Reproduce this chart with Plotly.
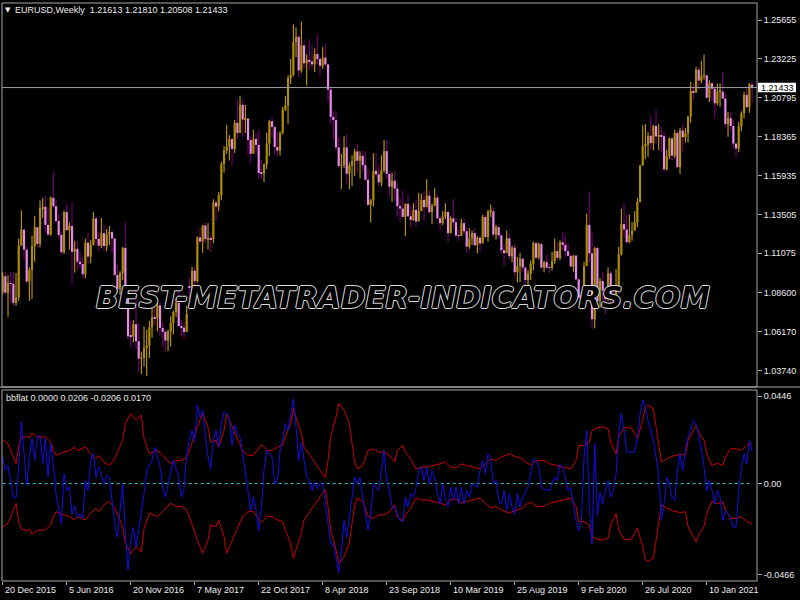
import plotly.graph_objects as go

# ------------------------------------------------------------------ data
date_tick_idx = [0, 24, 48, 72, 96, 120, 144, 168, 192, 216, 240, 264]
date_tick_text = ["20 Dec 2015", "5 Jun 2016", "20 Nov 2016", "7 May 2017",
                  "22 Oct 2017", "8 Apr 2018", "23 Sep 2018", "10 Mar 2019",
                  "25 Aug 2019", "9 Feb 2020", "26 Jul 2020", "10 Jan 2021"]
price_ticks = [1.25655, 1.23225, 1.20795, 1.18365, 1.15935, 1.13505,
               1.11075, 1.08600, 1.06170, 1.03740]
price_tick_text = ["1.25655", "1.23225", "1.20795", "1.18365", "1.15935",
                   "1.13505", "1.11075", "1.08600", "1.06170", "1.03740"]
ind_ticks = [0.0446, 0.0, -0.0466]
ind_tick_text = ["0.0446", "0.00", "-0.0466"]
last_price = 1.21433
title_text = "EURUSD,Weekly\u00a0 1.21613 1.21810 1.20508 1.21433"
ind_title = "bbflat 0.0000 0.0206 -0.0206 0.0170"
watermark = "BEST-METATRADER-INDICATORS.COM"

opens = [
    1.0866, 1.0964, 1.0861, 1.0921, 1.0917, 1.0797, 1.0831, 1.1156, 1.1255, 1.1130,
    1.0931, 1.1003, 1.1153, 1.1270, 1.1166, 1.1390, 1.1398, 1.1285, 1.1225, 1.1454,
    1.1402, 1.1309, 1.1222, 1.1114, 1.1365, 1.1252, 1.1278, 1.1117, 1.1136, 1.1055,
    1.1040, 1.0976, 1.1174, 1.1087, 1.1160, 1.1325, 1.1197, 1.1155, 1.1233, 1.1153,
    1.1226, 1.1240, 1.1200, 1.0972, 1.0883, 1.0985, 1.1142, 1.0856, 1.0588, 1.0587,
    1.0664, 1.0558, 1.0449, 1.0453, 1.0517, 1.0532, 1.0645, 1.0705, 1.0700, 1.0782,
    1.0640, 1.0617, 1.0562, 1.0620, 1.0671, 1.0740, 1.0798, 1.0652, 1.0643, 1.0615,
    1.0900, 1.0896, 1.0998, 1.0933, 1.1206, 1.1181, 1.1281, 1.1196, 1.1198, 1.1196,
    1.1425, 1.1400, 1.1470, 1.1665, 1.1750, 1.1773, 1.1821, 1.1760, 1.1923, 1.1860,
    1.2035, 1.1943, 1.1950, 1.1815, 1.1730, 1.1822, 1.1785, 1.1609, 1.1608, 1.1664,
    1.1793, 1.1933, 1.1897, 1.1772, 1.1749, 1.1861, 1.2005, 1.2029, 1.2201, 1.2222,
    1.2427, 1.2460, 1.2250, 1.2407, 1.2295, 1.2317, 1.2307, 1.2288, 1.2353, 1.2322,
    1.2280, 1.2330, 1.2288, 1.2130, 1.1960, 1.1940, 1.1769, 1.1653, 1.1659, 1.1769,
    1.1605, 1.1655, 1.1684, 1.1744, 1.1686, 1.1717, 1.1658, 1.1567, 1.1410, 1.1438,
    1.1623, 1.1601, 1.1551, 1.1624, 1.1746, 1.1604, 1.1524, 1.1561, 1.1512, 1.1402,
    1.1387, 1.1335, 1.1417, 1.1339, 1.1316, 1.1379, 1.1306, 1.1372, 1.1441, 1.1396,
    1.1468, 1.1364, 1.1405, 1.1456, 1.1326, 1.1296, 1.1336, 1.1365, 1.1233, 1.1326,
    1.1301, 1.1218, 1.1216, 1.1296, 1.1245, 1.1149, 1.1200, 1.1234, 1.1157, 1.1205,
    1.1169, 1.1334, 1.1209, 1.1370, 1.1370, 1.1224, 1.1271, 1.1219, 1.1127, 1.1108,
    1.1201, 1.1089, 1.1143, 1.0989, 1.1027, 1.1074, 1.1018, 1.0940, 1.0979, 1.1040,
    1.1171, 1.1080, 1.1165, 1.1018, 1.1052, 1.1018, 1.1016, 1.1059, 1.1122, 1.1079,
    1.1176, 1.1160, 1.1120, 1.1091, 1.1025, 1.1093, 1.0944, 1.0830, 1.0847, 1.1027,
    1.1285, 1.1107, 1.0695, 1.1140, 1.0808, 1.0935, 1.0875, 1.0820, 1.0982, 1.0837,
    1.0820, 1.0902, 1.1101, 1.1290, 1.1256, 1.1178, 1.1220, 1.1248, 1.1300, 1.1428,
    1.1656, 1.1778, 1.1785, 1.1842, 1.1796, 1.1903, 1.1838, 1.1844, 1.1839, 1.1632,
    1.1715, 1.1826, 1.1717, 1.1860, 1.1646, 1.1875, 1.1833, 1.1858, 1.1962, 1.2121,
    1.2113, 1.2255, 1.2187, 1.2216, 1.2220, 1.2080, 1.2170, 1.2136, 1.2045, 1.2118,
    1.2118, 1.2075, 1.1915, 1.1952, 1.1903, 1.1793, 1.1762, 1.1900, 1.1983, 1.2097,
    1.2020, 1.21613]

highs = [
    1.0990, 1.0994, 1.0970, 1.0990, 1.0990, 1.0985, 1.1199, 1.1376, 1.1260, 1.1150,
    1.1020, 1.1218, 1.1342, 1.1275, 1.1438, 1.1453, 1.1464, 1.1398, 1.1463, 1.1616,
    1.1445, 1.1355, 1.1249, 1.1374, 1.1416, 1.1300, 1.1428, 1.1186, 1.1186, 1.1120,
    1.1081, 1.1198, 1.1234, 1.1190, 1.1366, 1.1340, 1.1240, 1.1328, 1.1283, 1.1259,
    1.1278, 1.1253, 1.1203, 1.1038, 1.0996, 1.1146, 1.1300, 1.0862, 1.0685, 1.0690,
    1.0874, 1.0669, 1.0493, 1.0650, 1.0630, 1.0685, 1.0775, 1.0775, 1.0829, 1.0805,
    1.0680, 1.0630, 1.0630, 1.0714, 1.0748, 1.0829, 1.0906, 1.0690, 1.0680, 1.0780,
    1.0950, 1.1023, 1.1023, 1.1213, 1.1268, 1.1285, 1.1296, 1.1296, 1.1220, 1.1445,
    1.1440, 1.1490, 1.1680, 1.1777, 1.1910, 1.1846, 1.1830, 1.1940, 1.2070, 1.2092,
    1.2060, 1.2034, 1.1950, 1.1835, 1.1880, 1.1860, 1.1880, 1.1690, 1.1670, 1.1862,
    1.1940, 1.1961, 1.1900, 1.1863, 1.1870, 1.2023, 1.2089, 1.2219, 1.2323, 1.2537,
    1.2520, 1.2476, 1.2555, 1.2437, 1.2350, 1.2446, 1.2413, 1.2388, 1.2476, 1.2337,
    1.2396, 1.2414, 1.2296, 1.2145, 1.1996, 1.1996, 1.1832, 1.1728, 1.1840, 1.1852,
    1.1675, 1.1720, 1.1761, 1.1791, 1.1745, 1.1750, 1.1744, 1.1632, 1.1446, 1.1733,
    1.1734, 1.1660, 1.1720, 1.1815, 1.1815, 1.1620, 1.1610, 1.1622, 1.1550, 1.1456,
    1.1500, 1.1419, 1.1472, 1.1402, 1.1420, 1.1442, 1.1486, 1.1480, 1.1497, 1.1570,
    1.1499, 1.1417, 1.1514, 1.1480, 1.1342, 1.1372, 1.1420, 1.1375, 1.1339, 1.1448,
    1.1325, 1.1255, 1.1324, 1.1324, 1.1265, 1.1265, 1.1250, 1.1265, 1.1215, 1.1217,
    1.1348, 1.1347, 1.1380, 1.1412, 1.1393, 1.1286, 1.1282, 1.1231, 1.1163, 1.1250,
    1.1230, 1.1153, 1.1164, 1.1085, 1.1110, 1.1075, 1.1025, 1.1000, 1.1063, 1.1180,
    1.1179, 1.1175, 1.1175, 1.1060, 1.1098, 1.1040, 1.1116, 1.1200, 1.1175, 1.1188,
    1.1239, 1.1215, 1.1173, 1.1100, 1.1096, 1.1095, 1.0953, 1.0864, 1.1054, 1.1355,
    1.1495, 1.1236, 1.1147, 1.1148, 1.0953, 1.0990, 1.0890, 1.1019, 1.1000, 1.0876,
    1.1008, 1.1147, 1.1384, 1.1422, 1.1348, 1.1349, 1.1303, 1.1371, 1.1452, 1.1660,
    1.1908, 1.1916, 1.1865, 1.1966, 1.1909, 1.2011, 1.1917, 1.1900, 1.1872, 1.1754,
    1.1831, 1.1830, 1.1881, 1.1870, 1.1891, 1.1920, 1.1891, 1.1964, 1.2178, 1.2164,
    1.2273, 1.2273, 1.2310, 1.2349, 1.2223, 1.2190, 1.2182, 1.2150, 1.2169, 1.2169,
    1.2243, 1.2113, 1.1990, 1.1989, 1.1945, 1.1796, 1.1928, 1.1995, 1.2117, 1.2150,
    1.2171, 1.21810]

lows = [
    1.0850, 1.0850, 1.0711, 1.0804, 1.0778, 1.0780, 1.0810, 1.1155, 1.1070, 1.0916,
    1.0810, 1.0822, 1.1055, 1.1144, 1.1144, 1.1328, 1.1234, 1.1214, 1.1217, 1.1386,
    1.1300, 1.1203, 1.1097, 1.1104, 1.1250, 1.1131, 1.0912, 1.0987, 1.1000, 1.1015,
    1.0952, 1.0950, 1.1044, 1.1045, 1.1155, 1.1160, 1.1123, 1.1140, 1.1122, 1.1121,
    1.1160, 1.1106, 1.0965, 1.0860, 1.0851, 1.0940, 1.0850, 1.0570, 1.0518, 1.0551,
    1.0505, 1.0366, 1.0352, 1.0400, 1.0340, 1.0454, 1.0580, 1.0657, 1.0620, 1.0590,
    1.0520, 1.0494, 1.0495, 1.0525, 1.0600, 1.0710, 1.0650, 1.0590, 1.0570, 1.0640,
    1.0820, 1.0850, 1.0839, 1.0925, 1.1160, 1.1110, 1.1170, 1.1131, 1.1118, 1.1170,
    1.1312, 1.1370, 1.1440, 1.1612, 1.1729, 1.1688, 1.1662, 1.1735, 1.1823, 1.1858,
    1.1837, 1.1860, 1.1717, 1.1669, 1.1730, 1.1730, 1.1574, 1.1572, 1.1553, 1.1633,
    1.1714, 1.1830, 1.1729, 1.1717, 1.1718, 1.1850, 1.1996, 1.1916, 1.2165, 1.2213,
    1.2334, 1.2206, 1.2235, 1.2260, 1.2155, 1.2254, 1.2258, 1.2240, 1.2284, 1.2215,
    1.2260, 1.2273, 1.2055, 1.1910, 1.1822, 1.1750, 1.1644, 1.1510, 1.1640, 1.1542,
    1.1508, 1.1527, 1.1590, 1.1616, 1.1575, 1.1620, 1.1562, 1.1405, 1.1301, 1.1400,
    1.1587, 1.1526, 1.1525, 1.1612, 1.1570, 1.1460, 1.1430, 1.1432, 1.1335, 1.1302,
    1.1330, 1.1216, 1.1336, 1.1267, 1.1310, 1.1270, 1.1320, 1.1370, 1.1309, 1.1395,
    1.1356, 1.1289, 1.1401, 1.1320, 1.1249, 1.1283, 1.1320, 1.1176, 1.1232, 1.1270,
    1.1210, 1.1184, 1.1214, 1.1226, 1.1111, 1.1135, 1.1160, 1.1157, 1.1107, 1.1116,
    1.1170, 1.1202, 1.1181, 1.1335, 1.1207, 1.1193, 1.1200, 1.1101, 1.1027, 1.1117,
    1.1066, 1.1052, 1.0963, 1.0926, 1.0927, 1.0990, 1.0905, 1.0879, 1.0940, 1.1000,
    1.1072, 1.1070, 1.1014, 1.0990, 1.1014, 1.0981, 1.1000, 1.1040, 1.1067, 1.1065,
    1.1125, 1.1085, 1.1086, 1.1019, 1.0992, 1.0940, 1.0827, 1.0778, 1.0803, 1.1053,
    1.1054, 1.0636, 1.0638, 1.0778, 1.0768, 1.0813, 1.0727, 1.0810, 1.0766, 1.0774,
    1.0815, 1.0870, 1.1094, 1.1205, 1.1168, 1.1170, 1.1186, 1.1254, 1.1270, 1.1425,
    1.1655, 1.1695, 1.1710, 1.1753, 1.1753, 1.1789, 1.1752, 1.1737, 1.1612, 1.1625,
    1.1696, 1.1689, 1.1703, 1.1639, 1.1603, 1.1745, 1.1800, 1.1800, 1.1923, 1.2058,
    1.2110, 1.2130, 1.2170, 1.2193, 1.2074, 1.2053, 1.2058, 1.1952, 1.2033, 1.2023,
    1.2070, 1.1893, 1.1835, 1.1873, 1.1762, 1.1704, 1.1740, 1.1870, 1.1950, 1.2018,
    1.1986, 1.20508]

closes = [
    1.0964, 1.0861, 1.0921, 1.0917, 1.0797, 1.0831, 1.1156, 1.1255, 1.1130, 1.0931,
    1.1003, 1.1153, 1.1270, 1.1166, 1.1390, 1.1398, 1.1285, 1.1225, 1.1454, 1.1402,
    1.1309, 1.1222, 1.1114, 1.1365, 1.1252, 1.1278, 1.1117, 1.1136, 1.1055, 1.1040,
    1.0976, 1.1174, 1.1087, 1.1160, 1.1325, 1.1197, 1.1155, 1.1233, 1.1153, 1.1226,
    1.1240, 1.1200, 1.0972, 1.0883, 1.0985, 1.1142, 1.0856, 1.0588, 1.0587, 1.0664,
    1.0558, 1.0449, 1.0453, 1.0517, 1.0532, 1.0645, 1.0705, 1.0700, 1.0782, 1.0640,
    1.0617, 1.0562, 1.0620, 1.0671, 1.0740, 1.0798, 1.0652, 1.0643, 1.0615, 1.0727,
    1.0896, 1.0998, 1.0933, 1.1206, 1.1181, 1.1281, 1.1196, 1.1198, 1.1196, 1.1425,
    1.1400, 1.1470, 1.1665, 1.1750, 1.1773, 1.1821, 1.1760, 1.1923, 1.1860, 1.2035,
    1.1943, 1.1950, 1.1815, 1.1730, 1.1822, 1.1785, 1.1609, 1.1608, 1.1664, 1.1793,
    1.1933, 1.1897, 1.1772, 1.1749, 1.1861, 1.2005, 1.2029, 1.2201, 1.2222, 1.2427,
    1.2460, 1.2250, 1.2407, 1.2295, 1.2317, 1.2307, 1.2288, 1.2353, 1.2322, 1.2280,
    1.2330, 1.2288, 1.2130, 1.1960, 1.1940, 1.1769, 1.1653, 1.1659, 1.1769, 1.1605,
    1.1655, 1.1684, 1.1744, 1.1686, 1.1717, 1.1658, 1.1567, 1.1410, 1.1438, 1.1623,
    1.1601, 1.1551, 1.1624, 1.1746, 1.1604, 1.1524, 1.1561, 1.1512, 1.1402, 1.1387,
    1.1335, 1.1417, 1.1339, 1.1316, 1.1379, 1.1306, 1.1372, 1.1441, 1.1396, 1.1468,
    1.1364, 1.1405, 1.1456, 1.1326, 1.1296, 1.1336, 1.1365, 1.1233, 1.1326, 1.1301,
    1.1218, 1.1216, 1.1296, 1.1245, 1.1149, 1.1200, 1.1234, 1.1157, 1.1205, 1.1169,
    1.1334, 1.1209, 1.1370, 1.1370, 1.1224, 1.1271, 1.1219, 1.1127, 1.1108, 1.1201,
    1.1089, 1.1143, 1.0989, 1.1027, 1.1074, 1.1018, 1.0940, 1.0979, 1.1040, 1.1171,
    1.1080, 1.1165, 1.1018, 1.1052, 1.1018, 1.1016, 1.1059, 1.1122, 1.1079, 1.1176,
    1.1160, 1.1120, 1.1091, 1.1025, 1.1093, 1.0944, 1.0830, 1.0847, 1.1027, 1.1285,
    1.1107, 1.0695, 1.1140, 1.0808, 1.0935, 1.0875, 1.0820, 1.0982, 1.0837, 1.0820,
    1.0902, 1.1101, 1.1290, 1.1256, 1.1178, 1.1220, 1.1248, 1.1300, 1.1428, 1.1656,
    1.1778, 1.1785, 1.1842, 1.1796, 1.1903, 1.1838, 1.1844, 1.1839, 1.1632, 1.1715,
    1.1826, 1.1717, 1.1860, 1.1646, 1.1875, 1.1833, 1.1858, 1.1962, 1.2121, 1.2113,
    1.2255, 1.2187, 1.2216, 1.2220, 1.2080, 1.2170, 1.2136, 1.2045, 1.2118, 1.2118,
    1.2075, 1.1915, 1.1952, 1.1903, 1.1793, 1.1762, 1.1900, 1.1983, 1.2097, 1.2020,
    1.2164, 1.21433]

# bbflat main line (bar index, value)
bbflat_idx = [
    0, 1, 2, 4, 5, 6, 7, 8, 9, 10, 11, 12, 13, 14, 15, 16, 17, 18, 19, 20,
    21, 22, 23, 24, 25, 26, 27, 28, 29, 30, 31, 32, 33, 34, 35, 36, 38, 39, 40, 41,
    42, 43, 44, 45, 46, 47, 48, 49, 50, 51, 52, 53, 54, 56, 57, 58, 59, 60, 61, 62,
    63, 64, 66, 67, 68, 69, 70, 71, 72, 73, 74, 75, 76, 77, 78, 79, 80, 81, 82, 83,
    84, 85, 86, 87, 88, 89, 90, 91, 92, 93, 94, 95, 96, 97, 98, 99, 101, 102, 103, 104,
    105, 106, 107, 108, 109, 110, 111, 112, 113, 114, 115, 116, 117, 118, 119, 120, 121, 122, 123, 124,
    125, 126, 127, 128, 129, 130, 131, 132, 133, 134, 135, 137, 138, 139, 140, 141, 142, 143, 144, 145,
    146, 147, 149, 150, 151, 152, 153, 154, 155, 156, 157, 158, 159, 160, 161, 162, 163, 164, 165, 166,
    167, 168, 169, 170, 171, 172, 173, 174, 175, 176, 178, 179, 180, 181, 182, 183, 184, 185, 186, 187,
    188, 189, 190, 191, 192, 193, 194, 195, 197, 198, 199, 200, 201, 202, 203, 205, 206, 207, 208, 209,
    210, 211, 212, 213, 214, 215, 216, 217, 218, 219, 220, 221, 222, 223, 224, 225, 226, 227, 228, 229,
    230, 231, 232, 233, 234, 235, 237, 238, 239, 240, 241, 242, 244, 245, 246, 247, 248, 249, 250, 251,
    252, 253, 254, 255, 256, 257, 258, 259, 260, 261, 262, 263, 264, 265, 266, 267, 268, 269, 270, 271,
    272, 273, 274, 275, 276, 277, 278, 279, 280, 281]
bbflat_val = [
    0.0135, 0.0067, 0.0092, -0.0070, -0.0074, 0.0084, 0.0315, 0.0135, -0.0010, 0.0135,
    0.0229, 0.0118, 0.0238, 0.0246, 0.0101, 0.0229, 0.0032, 0.0204, 0.0101, -0.0053,
    -0.0121, -0.0207, 0.0050, -0.0036, -0.0019, -0.0156, -0.0113, -0.0173, -0.0156, -0.0181,
    0.0015, -0.0036, 0.0118, 0.0152, 0.0032, 0.0084, -0.0002, 0.0041, 0.0032, -0.0087,
    -0.0207, -0.0275, -0.0121, -0.0002, -0.0250, -0.0445, -0.0292, -0.0224, -0.0327, -0.0241,
    -0.0156, -0.0053, 0.0067, 0.0118, 0.0186, 0.0144, 0.0084, -0.0019, -0.0070, -0.0002,
    0.0067, 0.0118, 0.0032, -0.0070, -0.0030, 0.0152, 0.0221, 0.0272, 0.0212, 0.0400,
    0.0340, 0.0375, 0.0238, 0.0135, 0.0075, 0.0221, 0.0272, 0.0186, 0.0306, 0.0366,
    0.0357, 0.0332, 0.0195, 0.0298, 0.0255, 0.0238, 0.0152, 0.0050, -0.0053, -0.0139,
    -0.0070, -0.0139, -0.0241, -0.0121, 0.0067, 0.0170, 0.0135, -0.0002, 0.0015, 0.0169,
    0.0221, 0.0306, 0.0272, 0.0357, 0.0434, 0.0289, 0.0118, 0.0212, 0.0118, 0.0032,
    0.0015, -0.0036, 0.0007, -0.0027, -0.0002, -0.0002, -0.0104, -0.0207, -0.0310, -0.0310,
    -0.0380, -0.0455, -0.0344, -0.0190, -0.0275, -0.0173, -0.0070, 0.0032, -0.0002, 0.0032,
    -0.0070, -0.0241, -0.0156, -0.0002, -0.0019, -0.0036, 0.0067, 0.0169, 0.0015, -0.0036,
    -0.0121, -0.0121, -0.0190, -0.0190, -0.0070, -0.0121, -0.0053, -0.0070, -0.0019, 0.0067,
    0.0084, 0.0015, 0.0084, -0.0002, 0.0067, 0.0032, -0.0053, -0.0104, -0.0002, -0.0087,
    -0.0121, -0.0019, -0.0087, -0.0019, -0.0104, -0.0019, -0.0104, -0.0036, -0.0070, -0.0002,
    -0.0019, 0.0067, 0.0118, 0.0050, 0.0152, 0.0118, -0.0002, 0.0015, -0.0087, -0.0104,
    -0.0036, -0.0139, -0.0053, -0.0121, -0.0156, -0.0053, -0.0121, -0.0070, -0.0019, 0.0060,
    0.0126, 0.0118, 0.0084, -0.0019, -0.0027, -0.0036, -0.0002, 0.0032, 0.0015, 0.0101,
    0.0084, 0.0015, -0.0036, -0.0019, -0.0104, -0.0190, -0.0241, -0.0190, 0.0135, 0.0272,
    -0.0121, -0.0310, 0.0204, -0.0164, -0.0044, -0.0104, -0.0036, 0.0015, -0.0070, -0.0036,
    0.0050, 0.0250, 0.0357, 0.0272, 0.0161, 0.0161, 0.0161, 0.0229, 0.0357, 0.0426,
    0.0392, 0.0323, 0.0221, 0.0135, 0.0050, -0.0190, -0.0104, 0.0032, -0.0002, -0.0070,
    -0.0087, 0.0067, 0.0152, 0.0067, 0.0169, 0.0238, 0.0280, 0.0323, 0.0306, 0.0238,
    0.0178, 0.0084, -0.0036, 0.0015, -0.0036, -0.0104, -0.0036, -0.0070, -0.0190, -0.0139,
    -0.0156, -0.0173, -0.0224, -0.0224, -0.0036, 0.0084, 0.0152, 0.0101, 0.0221, 0.0170]

# band half-width (upper = +band, lower = -band)
band_idx = [
    0, 2, 3, 5, 6, 7, 9, 10, 11, 13, 16, 18, 19, 20, 23, 25, 27, 28, 31, 33,
    35, 36, 38, 40, 42, 44, 45, 46, 48, 50, 52, 53, 55, 58, 60, 63, 65, 67, 69, 70,
    73, 75, 77, 78, 80, 81, 83, 84, 85, 87, 88, 90, 92, 94, 96, 97, 98, 99, 101, 103,
    105, 106, 108, 109, 110, 112, 113, 115, 117, 119, 121, 122, 123, 125, 126, 128, 130, 131, 132, 133,
    135, 137, 139, 141, 143, 145, 147, 148, 150, 151, 153, 155, 157, 159, 162, 164, 166, 168, 170, 172,
    174, 176, 179, 181, 183, 185, 187, 190, 191, 193, 195, 196, 198, 200, 203, 205, 208, 210, 213, 215,
    216, 218, 220, 221, 223, 225, 227, 228, 230, 231, 233, 235, 236, 238, 240, 241, 242, 244, 245, 246,
    247, 249, 251, 254, 256, 257, 259, 260, 261, 263, 264, 266, 268, 270, 271, 273, 275, 277, 279, 281]
band_val = [
    0.0224, 0.0204, 0.0169, 0.0101, 0.0195, 0.0234, 0.0241, 0.0234, 0.0258, 0.0238,
    0.0238, 0.0212, 0.0169, 0.0144, 0.0161, 0.0169, 0.0186, 0.0169, 0.0186, 0.0152,
    0.0126, 0.0144, 0.0109, 0.0092, 0.0126, 0.0186, 0.0221, 0.0306, 0.0357, 0.0323,
    0.0350, 0.0230, 0.0152, 0.0169, 0.0144, 0.0101, 0.0118, 0.0118, 0.0135, 0.0169,
    0.0289, 0.0357, 0.0289, 0.0212, 0.0221, 0.0186, 0.0272, 0.0357, 0.0323, 0.0263,
    0.0229, 0.0169, 0.0144, 0.0144, 0.0178, 0.0200, 0.0186, 0.0169, 0.0169, 0.0186,
    0.0195, 0.0238, 0.0306, 0.0383, 0.0340, 0.0255, 0.0186, 0.0144, 0.0109, 0.0067,
    0.0032, 0.0118, 0.0238, 0.0340, 0.0409, 0.0375, 0.0306, 0.0204, 0.0109, 0.0075,
    0.0092, 0.0169, 0.0178, 0.0161, 0.0161, 0.0144, 0.0109, 0.0169, 0.0195, 0.0161,
    0.0126, 0.0075, 0.0084, 0.0084, 0.0092, 0.0101, 0.0109, 0.0084, 0.0080, 0.0101,
    0.0092, 0.0084, 0.0075, 0.0101, 0.0126, 0.0118, 0.0135, 0.0152, 0.0144, 0.0135,
    0.0126, 0.0109, 0.0095, 0.0115, 0.0118, 0.0101, 0.0092, 0.0084, 0.0075, 0.0118,
    0.0195, 0.0195, 0.0212, 0.0272, 0.0286, 0.0289, 0.0280, 0.0212, 0.0152, 0.0238,
    0.0286, 0.0286, 0.0280, 0.0229, 0.0323, 0.0392, 0.0400, 0.0383, 0.0289, 0.0204,
    0.0109, 0.0126, 0.0139, 0.0149, 0.0144, 0.0221, 0.0272, 0.0298, 0.0263, 0.0221,
    0.0152, 0.0092, 0.0104, 0.0092, 0.0135, 0.0178, 0.0178, 0.0169, 0.0195, 0.0206]

# ------------------------------------------------------------------ layout constants (pixels)
W, H = 800, 600
PX_L, PX_R = 2.0, 757.0            # plot area left / right
TOP_T, TOP_B = 3.0, 387.0          # price panel
BOT_T, BOT_B = 390.0, 581.0        # indicator panel
BAR0_PX, BAR_STEP = 2.7, 2.6667    # pixel of bar 0, pixels per bar
P_REF_PX, P_REF, P_SCALE = 20.0, 1.25655, 1600.0
I_ZERO_PX, I_SCALE = 483.5, 1955.0


def py(px):
    return 1 - px / H


def px_(x):
    return x / W


x_range = [(PX_L - BAR0_PX) / BAR_STEP, (PX_R - BAR0_PX) / BAR_STEP]
top_range = [P_REF - (TOP_B - P_REF_PX) / P_SCALE, P_REF + (P_REF_PX - TOP_T) / P_SCALE]
bot_range = [-(BOT_B - I_ZERO_PX) / I_SCALE, (I_ZERO_PX - BOT_T) / I_SCALE]

FONT = "Liberation Sans Narrow, Liberation Sans, Arial, sans-serif"
FS = 9
TXT = "#ececec"
FRAME = "#a8a8a8"

UP_WICK, UP_BODY = "#d6ad00", "#ad8e00"
DN_WICK, DN_BODY = "#7e007e", "#e88ae8"

n = len(closes)
idx = list(range(n))
is_up = [c >= o for o, c in zip(opens, closes)]

fig = go.Figure()

# wicks
for flag, col in ((True, UP_WICK), (False, DN_WICK)):
    wx, wy = [], []
    for i in idx:
        if is_up[i] == flag:
            wx += [i, i, None]
            wy += [lows[i], highs[i], None]
    fig.add_trace(go.Scatter(x=wx, y=wy, mode="lines", line=dict(color=col, width=1),
                             hoverinfo="skip", xaxis="x", yaxis="y", zorder=0))

# bodies
fig.add_trace(go.Bar(
    x=idx,
    y=[max(abs(c - o), 0.0004) for o, c in zip(opens, closes)],
    base=[min(o, c) for o, c in zip(opens, closes)],
    width=0.82,
    marker=dict(color=[UP_BODY if u else DN_BODY for u in is_up], line=dict(width=0)),
    hoverinfo="skip", xaxis="x", yaxis="y", zorder=1))

# indicator: zero level, bands, main line
fig.add_trace(go.Scatter(x=[0, n - 1], y=[0, 0], mode="lines",
                         line=dict(color="#22c4c4", width=1, dash="3px,3px"),
                         hoverinfo="skip", xaxis="x2", yaxis="y2"))
fig.add_trace(go.Scatter(x=band_idx, y=band_val, mode="lines",
                         line=dict(color="#cc0000", width=1),
                         hoverinfo="skip", xaxis="x2", yaxis="y2"))
fig.add_trace(go.Scatter(x=band_idx, y=[-v for v in band_val], mode="lines",
                         line=dict(color="#cc0000", width=1),
                         hoverinfo="skip", xaxis="x2", yaxis="y2"))
fig.add_trace(go.Scatter(x=bbflat_idx, y=bbflat_val, mode="lines",
                         line=dict(color="#1010e6", width=1),
                         hoverinfo="skip", xaxis="x2", yaxis="y2"))

tickfont = dict(family=FONT, size=FS, color=TXT)
fig.update_layout(
    width=W, height=H, margin=dict(l=0, r=0, t=0, b=0, autoexpand=False),
    paper_bgcolor="#000000", plot_bgcolor="#000000",
    showlegend=False, barmode="overlay", hovermode=False,
    xaxis=dict(domain=[px_(PX_L), px_(PX_R)], range=x_range, anchor="y",
               showgrid=False, zeroline=False, showticklabels=False, ticks="",
               showline=False),
    yaxis=dict(domain=[py(TOP_B), py(TOP_T)], range=top_range, anchor="x", side="right",
               tickvals=price_ticks, ticktext=price_tick_text, ticks="outside",
               ticklen=4, tickcolor=FRAME, tickfont=tickfont,
               showgrid=False, zeroline=False, showline=False),
    xaxis2=dict(domain=[px_(PX_L), px_(PX_R)], range=x_range, anchor="y2",
                tickvals=date_tick_idx, ticks="outside", ticklen=3, tickcolor=FRAME,
                showticklabels=False, showgrid=False, zeroline=False, showline=False),
    yaxis2=dict(domain=[py(BOT_B), py(BOT_T)], range=bot_range, anchor="x2", side="right",
                tickvals=ind_ticks, ticktext=ind_tick_text, ticks="outside",
                ticklen=4, tickcolor=FRAME, tickfont=tickfont,
                showgrid=False, zeroline=False, showline=False),
)

shapes = [
    dict(type="rect", xref="paper", yref="paper", x0=px_(PX_L), x1=px_(PX_R),
         y0=py(TOP_B), y1=py(TOP_T), line=dict(color=FRAME, width=1)),
    dict(type="line", xref="paper", yref="paper", x0=0, x1=1,
         y0=py(TOP_B), y1=py(TOP_B), line=dict(color=FRAME, width=1)),
    dict(type="rect", xref="paper", yref="paper", x0=px_(PX_L), x1=px_(PX_R),
         y0=py(BOT_B), y1=py(BOT_T), line=dict(color=FRAME, width=1)),
    dict(type="line", xref="paper", yref="y", x0=px_(PX_L), x1=px_(PX_R),
         y0=last_price, y1=last_price, line=dict(color="#9aa0a6", width=1)),
    dict(type="rect", xref="paper", yref="y", x0=px_(758), x1=px_(796),
         y0=last_price - 4.8 / P_SCALE, y1=last_price + 4.8 / P_SCALE,
         fillcolor="#ffffff", line=dict(width=0)),
]
fig.update_layout(shapes=shapes)

annotations = [
    dict(text="\u25bc", xref="paper", yref="paper", x=px_(3), y=py(10), xanchor="left",
         yanchor="middle", showarrow=False, font=dict(family="DejaVu Sans", size=7, color=TXT)),
    dict(text=title_text, xref="paper", yref="paper", x=px_(13), y=py(10.5), xanchor="left",
         yanchor="middle", showarrow=False, font=dict(family=FONT, size=FS, color=TXT)),
    dict(text=ind_title, xref="paper", yref="paper", x=px_(4), y=py(397.5), xanchor="left",
         yanchor="middle", showarrow=False, font=dict(family=FONT, size=FS, color=TXT)),
    dict(text=f"{last_price:.5f}", xref="paper", yref="y", x=px_(759), y=last_price,
         xanchor="left", yanchor="middle", showarrow=False,
         font=dict(family=FONT, size=FS, color="#000000")),
    dict(text=watermark, xref="paper", yref="paper", x=px_(402.5), y=py(298),
         xanchor="center", yanchor="middle", showarrow=False,
         font=dict(family="DejaVu Sans", size=29.5, weight="bold", color="#000000", style="italic",
                   shadow="1px 0 0 #dcdcdc, -1px 0 0 #dcdcdc, 0 1px 0 #dcdcdc, 0 -1px 0 #dcdcdc")),
]
for i, t in zip(date_tick_idx, date_tick_text):
    annotations.append(dict(text=t, xref="x2", yref="paper", x=i, y=py(590),
                            xanchor="left", yanchor="middle", showarrow=False,
                            font=dict(family=FONT, size=FS, color=TXT)))
fig.update_layout(annotations=annotations)

fig.write_html("out.html", config={"displayModeBar": False},
               post_script="document.body.style.margin='0px';document.body.style.padding='0px';")
